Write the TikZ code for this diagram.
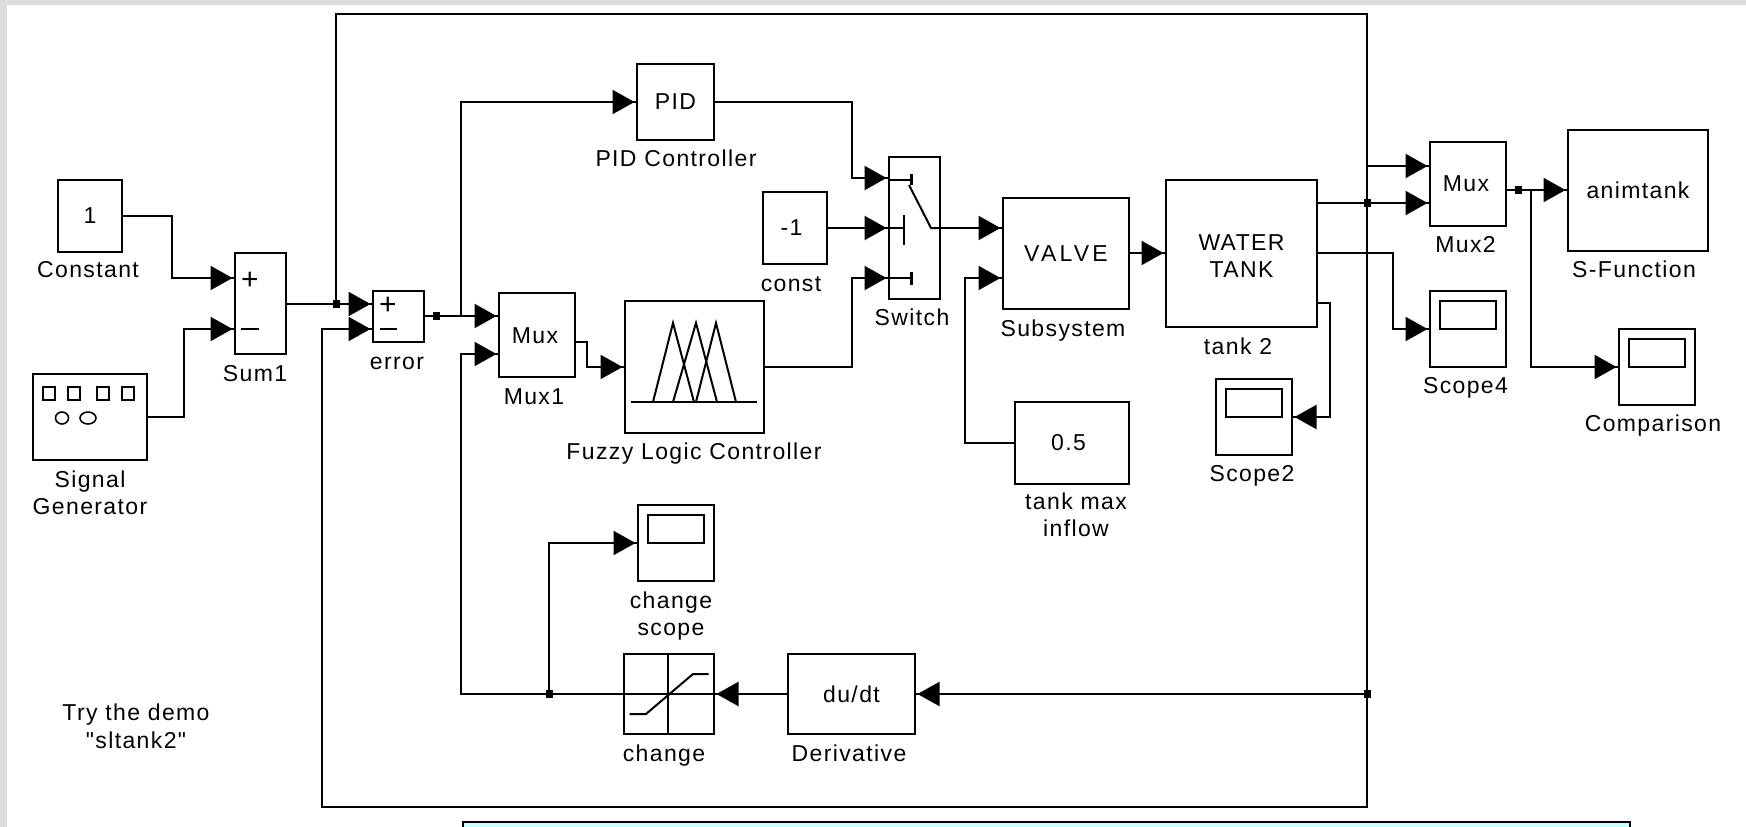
\documentclass[tikz,border=0pt]{standalone}
\usepackage{fontspec}
\setmainfont{Liberation Sans}
\newfontfamily\plainf[LetterSpace=6]{Liberation Sans}
\newfontfamily\widef[LetterSpace=14]{Liberation Sans}
\usetikzlibrary{arrows.meta,decorations.markings,calc}
\definecolor{pagegrey}{HTML}{DCDCDC}
\definecolor{notecyan}{HTML}{C8FFFF}
\tikzset{
  blockbox/.style={draw=black,line width=2.2pt,fill=white,rectangle,inner sep=0pt,outer sep=0pt,align=center,font=\plainf\fontsize{23}{27}\selectfont},
  lab/.style={inner sep=0pt,outer sep=0pt,align=center,text=black,font=\plainf\fontsize{23}{27.5}\selectfont},
  onelab/.style={lab,text height=16pt,text depth=0pt},
  wire/.style={draw=black,line width=2.2pt,line join=miter},
  headed/.style={wire,postaction={decorate,decoration={markings,mark=at position -2.5pt with {\arrow{Triangle[length=22pt,width=24pt]}}}}},
  junct/.style={fill=black,draw=none,rectangle,minimum width=7pt,minimum height=8pt,inner sep=0pt},
  thin line/.style={draw=black,line width=2pt,line cap=butt}
}
\newcommand{\blk}[6]{\node[blockbox,minimum width=#4pt-#2pt,minimum height=#5pt-#3pt,anchor=north west] (#1) at (#2,#3) {#6};}
\newcommand{\scopeblk}[5]{%
  \node[blockbox,minimum width=#4pt-#2pt,minimum height=#5pt-#3pt,anchor=north west] (#1) at (#2,#3) {};
  \node[blockbox,minimum width=#4pt-#2pt-20pt,minimum height=28pt,anchor=north] (#1screen) at ($(#1.north)+(0,10)$) {};
}
\begin{document}
\begin{tikzpicture}[x=1pt,y=-1pt]
\useasboundingbox (0,0) rectangle (1746,827);
\fill[pagegrey] (0,0) rectangle (1746,827);
\fill[white] (7,5) rectangle (1746,827);

% note box
\node[draw=black,line width=2pt,fill=notecyan,rectangle,minimum width=1167pt,minimum height=30pt,anchor=north west,inner sep=0pt,outer sep=0pt] (note) at (463,821.5) {};

% blocks
\blk{constant}{58}{180}{122}{252}{1}
\blk{siggen}{33}{374}{147}{460}{}
\blk{sumone}{235}{253}{286}{354}{}
\blk{error}{373}{291}{424}{342}{}
\blk{muxone}{499}{293}{575}{377}{}
\blk{pid}{637}{64}{714}{140}{PID}
\blk{fuzzy}{625}{301}{764}{433}{}
\blk{const}{763}{192}{827}{264}{-1\hspace{7pt}}
\blk{switch}{889}{157}{940}{299}{}
\blk{valve}{1003}{198}{1129}{309}{\widef\fontsize{23}{27}\selectfont VALVE}
\blk{tankmax}{1015}{402}{1129}{484}{0.5\hspace{7pt}}
\blk{tank}{1166}{180}{1317}{327}{\rule{0pt}{20pt}WATER\\TANK}
\blk{muxtwo}{1430}{142}{1506}{226}{}
\blk{sfun}{1568}{130}{1708}{251}{animtank}
\blk{sat}{624}{654}{714}{734}{}
\blk{deriv}{788}{654}{915}{734}{du/dt}
\scopeblk{scopefour}{1430}{291}{1506}{367}{}
\scopeblk{comparison}{1619}{329}{1695}{405}{}
\scopeblk{scopetwo}{1216}{379}{1292}{455}{}
\scopeblk{changescope}{638}{505}{714}{581}{}

% signal generator icons
\foreach \x in {49,74,103,128}{\draw[line width=2.2pt] (\x-6,387) rectangle (\x+6,400);}
\draw[line width=1.6pt] (62,418) ellipse (6.5 and 6);
\draw[line width=1.6pt] (88,418) ellipse (8 and 6);

% sum signs
\node[lab,font=\fontsize{30}{30}\selectfont] (sumplus) at (250,280.5) {+};
\draw[line width=2pt] (241,329) -- (259,329);
\node[lab,font=\fontsize{30}{30}\selectfont] (errplus) at (388,305.5) {+};
\draw[line width=2pt] (380,329) -- (397,329);

% inner text
\node[onelab] (muxonetxt) at (535,335) {Mux};
\node[onelab] (muxtwotxt) at (1466,183) {Mux};

% fuzzy icon
\draw[thin line] (631,402) -- (757,402);
\draw[thin line] (653,402) -- (673,323) -- (694,402);
\draw[thin line] (673,402) -- (696,323) -- (717,402);
\draw[thin line] (696,402) -- (716,323) -- (736,402);

% switch icon
\draw[line width=3pt] (911,174) -- (911,185);
\draw[line width=2pt] (904,215) -- (904,245);
\draw[line width=3pt] (911,272) -- (911,285);
\draw[thin line] (889,180) -- (911,180);
\draw[thin line] (889,228) -- (904,228);
\draw[thin line] (889,278) -- (911,278);
\draw[thin line] (909,185) -- (931,228) -- (940,228);

% saturation icon
\draw[thin line] (668,654) -- (668,734);
\draw[thin line] (624,694) -- (714,694);
\draw[thin line] (629.5,714) -- (646,714) -- (693,674) -- (708.5,674);

% ports and bends
\coordinate (csum) at (235,278);
\coordinate (gsum) at (235,329);
\coordinate (sumout) at (286,304);
\coordinate (errin) at (373,304);
\coordinate (errminus) at (373,329);
\coordinate (errout) at (424,316);
\coordinate (muxa) at (499,316);
\coordinate (muxb) at (499,354);
\coordinate (muxout) at (575,342);
\coordinate (swa) at (889,178);
\coordinate (swb) at (889,228);
\coordinate (swc) at (889,278);
\coordinate (swout) at (940,228);
\coordinate (vala) at (1003,228);
\coordinate (valb) at (1003,278);
\coordinate (valout) at (1129,253);
\coordinate (tankin) at (1166,253);
\coordinate (tanka) at (1317,203);
\coordinate (tankb) at (1317,253);
\coordinate (tankc) at (1317,303);
\coordinate (mtwoa) at (1430,166);
\coordinate (mtwob) at (1430,203);
\coordinate (mtwoout) at (1506,190);
\coordinate (sfunin) at (1568,190);
\coordinate (compin) at (1619,367);
\coordinate (sfourin) at (1430,329);
\coordinate (stwoin) at (1292,417);
\coordinate (scin) at (638,543);
\coordinate (fb) at (1367,694);
\coordinate (derivout) at (788,694);
\coordinate (fbm) at (461,694);
\coordinate (fbs) at (549,694);

% connectors
\draw[headed] (constant.east) -- (172,216) -- (172,278) -- (csum);
\draw[headed] (siggen.east) -- (184,417) -- (184,329) -- (gsum);
\draw[headed] (sumout) -- (errin);
\draw[wire] (336,304) -- (336,14) -- (1367,14) -- (1367,694);
\draw[headed] (1367,14) -- (1367,166) -- (mtwoa);
\draw[headed] (errout) -- (muxa);
\draw[headed] (461,316) -- (461,102) -- (pid.west);
\draw[headed] (pid.east) -- (852,102) -- (852,178) -- (swa);
\draw[headed] (const.east) -- (swb);
\draw[headed] (fuzzy.east) -- (852,367) -- (852,278) -- (swc);
\draw[headed] (swout) -- (vala);
\draw[headed] (tankmax.west) -- (965,443) -- (965,278) -- (valb);
\draw[headed] (valout) -- (tankin);
\draw[headed] (tanka) -- (mtwob);
\draw[headed] (tankb) -- (1393,253) -- (1393,329) -- (sfourin);
\draw[headed] (tankc) -- (1330,303) -- (1330,417) -- (stwoin);
\draw[headed] (mtwoout) -- (sfunin);
\draw[headed] (1531,190) -- (1531,367) -- (compin);
\draw[headed] (muxout) -- (587,342) -- (587,367) -- (fuzzy.west);
\draw[headed] (fb) -- (deriv.east);
\draw[headed] (derivout) -- (sat.east);
\draw[wire] (sat.west) -- (fbs);
\draw[headed] (fbs) -- (fbm) -- (461,354) -- (muxb);
\draw[headed] (fbs) -- (549,543) -- (scin);
\draw[headed] (1367,694) -- (1367,807) -- (322,807) -- (322,329) -- (errminus);

% junctions
\node[junct] (ja) at (336,304) {};
\node[junct] (jb) at (436,316) {};
\node[junct] (jc) at (fbs) {};
\node[junct] (jd) at (1367,203) {};
\node[junct] (je) at (1518,190) {};
\node[junct] (jf) at (fb) {};

% labels
\node[onelab] (l1) at (88,269) {Constant};
\node[lab] (l2) at (90,493) {Signal\\Generator};
\node[onelab] (l3) at (255,373) {Sum1};
\node[onelab] (l4) at (397,361) {error};
\node[onelab] (l5) at (534,396) {Mux1};
\node[onelab] (l6) at (676,158) {PID Controller};
\node[onelab] (l7) at (791,283) {const};
\node[onelab] (l8) at (912,317) {Switch};
\node[onelab] (l9) at (1063,328) {Subsystem};
\node[onelab] (l10) at (1238,346) {tank 2};
\node[onelab] (l11) at (1465.5,244) {Mux2};
\node[onelab] (l12) at (1634,269) {S-Function};
\node[onelab] (l13) at (1465.5,385) {Scope4};
\node[onelab] (l14) at (1653,423) {Comparison};
\node[onelab] (l15) at (1252,473) {Scope2};
\node[lab] (l16) at (1076,515) {tank max\\inflow};
\node[onelab] (l17) at (694,451) {Fuzzy Logic Controller};
\node[lab] (l18) at (671,616) {change\\scope};
\node[onelab] (l19) at (664,753) {change};
\node[onelab] (l20) at (849,753) {Derivative};
\node[lab] (l21) at (136,726.5) {Try the demo\\"sltank2"};
\end{tikzpicture}
\end{document}
